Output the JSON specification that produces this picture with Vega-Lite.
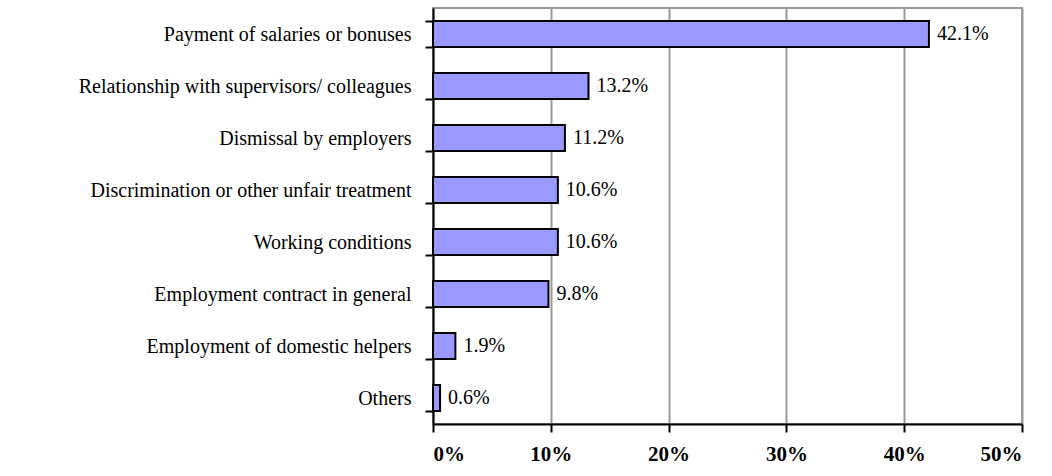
{
  "$schema": "https://vega.github.io/schema/vega-lite/v6.json",
  "width": 589,
  "height": 416,
  "autosize": {"type": "none"},
  "padding": {"left": 433, "top": 8, "right": 30, "bottom": 52},
  "background": "white",
  "config": {
    "view": {"stroke": "#999999", "strokeWidth": 2},
    "font": "Liberation Serif, Times New Roman, serif"
  },
  "data": {
    "values": [
      {"category": "Payment of salaries or bonuses", "value": 42.1, "label": "42.1%"},
      {"category": "Relationship with supervisors/ colleagues", "value": 13.2, "label": "13.2%"},
      {"category": "Dismissal by employers", "value": 11.2, "label": "11.2%"},
      {"category": "Discrimination or other unfair treatment", "value": 10.6, "label": "10.6%"},
      {"category": "Working conditions", "value": 10.6, "label": "10.6%"},
      {"category": "Employment contract in general", "value": 9.8, "label": "9.8%"},
      {"category": "Employment of domestic helpers", "value": 1.9, "label": "1.9%"},
      {"category": "Others", "value": 0.6, "label": "0.6%"}
    ]
  },
  "encoding": {
    "y": {
      "field": "category",
      "type": "nominal",
      "sort": null,
      "title": null,
      "scale": {"paddingInner": 0.5, "paddingOuter": 0.25},
      "axis": {
        "tickBand": "extent",
        "domainColor": "black",
        "domainWidth": 2,
        "tickColor": "black",
        "tickWidth": 2,
        "tickSize": 8,
        "labelFont": "Liberation Serif, Times New Roman, serif",
        "labelFontSize": 20,
        "labelColor": "black",
        "labelPadding": 14,
        "labelLimit": 500,
        "grid": false
      }
    },
    "x": {
      "field": "value",
      "type": "quantitative",
      "title": null,
      "scale": {"domain": [0, 50], "nice": false},
      "axis": {
        "values": [0, 10, 20, 30, 40, 50],
        "labelExpr": "datum.value + '%'",
        "domainColor": "black",
        "domainWidth": 2,
        "tickColor": "black",
        "tickWidth": 2,
        "tickSize": 8,
        "labelFont": "Liberation Serif, Times New Roman, serif",
        "labelFontSize": 21,
        "labelFontWeight": "bold",
        "labelColor": "black",
        "labelPadding": 11,
        "grid": true,
        "gridColor": "#999999",
        "gridWidth": 2
      }
    }
  },
  "layer": [
    {
      "mark": {"type": "bar", "fill": "#9999FF", "stroke": "black", "strokeWidth": 2}
    },
    {
      "mark": {"type": "text", "align": "left", "baseline": "middle", "dx": 8, "fontSize": 20, "font": "Liberation Serif, Times New Roman, serif", "color": "black"},
      "encoding": {"text": {"field": "label"}}
    }
  ]
}
